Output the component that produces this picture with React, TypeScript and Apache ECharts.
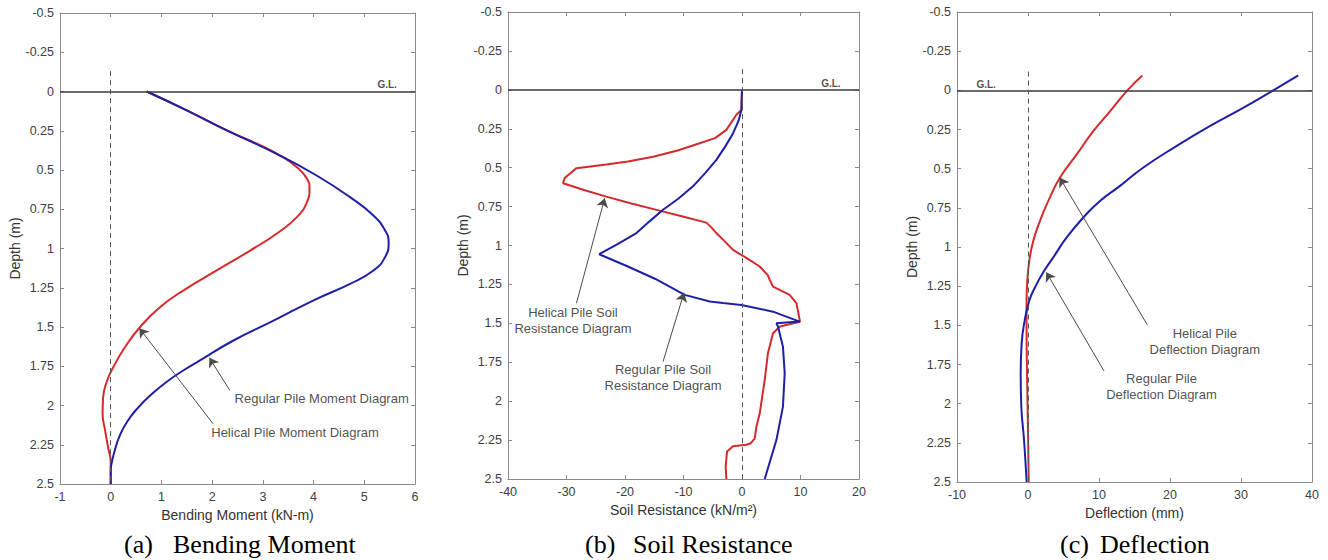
import React, { useEffect, useRef } from "react";
import * as echarts from "echarts";

// ---------- data: [value, depth (m)] ----------
const momentRegular: number[][] = [
  [0.71, 0], [1.5, 0.12], [2.29, 0.248], [3.27, 0.397], [4.06, 0.535], [4.72, 0.673], [5.18, 0.79],
  [5.41, 0.885], [5.48, 0.96], [5.41, 1.055], [5.18, 1.14], [4.72, 1.225], [4.0, 1.33], [3.21, 1.46],
  [2.42, 1.586], [1.76, 1.713], [1.43, 1.777], [1.1, 1.85], [0.8, 1.93], [0.55, 2.01], [0.33, 2.1],
  [0.18, 2.19], [0.085, 2.28], [0.03, 2.35], [0, 2.41], [0, 2.5],
];
const momentHelical: number[][] = [
  [0.71, 0], [1.5, 0.12], [2.29, 0.248], [3.0, 0.35], [3.34, 0.408], [3.67, 0.482], [3.87, 0.556],
  [3.92, 0.62], [3.87, 0.705], [3.67, 0.8], [3.27, 0.906], [2.75, 1.013], [2.09, 1.14], [1.43, 1.268],
  [0.97, 1.374], [0.58, 1.5], [0.28, 1.629], [0.05, 1.756], [-0.08, 1.85], [-0.15, 1.95],
  [-0.16, 2.05], [-0.11, 2.16], [-0.05, 2.27], [0, 2.36], [0, 2.5],
];
const soilRegular: number[][] = [
  [0, 0], [-0.1, 0.13], [-0.6, 0.2], [-1.54, 0.28], [-2.8, 0.36], [-4.38, 0.45], [-6.3, 0.535],
  [-8.38, 0.62], [-10.9, 0.7], [-13.5, 0.77], [-15.8, 0.845], [-18.05, 0.92], [-21.2, 0.99],
  [-24.4, 1.056], [-19.5, 1.135], [-14.8, 1.215], [-9.8, 1.317], [-5.5, 1.36], [-3.25, 1.37],
  [-0.1, 1.382], [5.3, 1.425], [9.86, 1.489], [5.88, 1.5], [6.15, 1.52], [7.0, 1.65], [7.3, 1.82],
  [7.0, 2.035], [5.88, 2.25], [3.88, 2.5],
];
const soilHelical: number[][] = [
  [0, 0], [-0.1, 0.13], [-0.96, 0.16], [-2.67, 0.257], [-4.6, 0.31], [-7.23, 0.343], [-11, 0.39],
  [-15.2, 0.43], [-19.5, 0.46], [-23.2, 0.48], [-28.3, 0.503], [-30.3, 0.567], [-30.6, 0.6],
  [-27, 0.643], [-23.2, 0.686], [-18.9, 0.73], [-14.6, 0.771], [-10.3, 0.812], [-6.09, 0.853],
  [-5.2, 0.885], [-4.38, 0.92], [-2.9, 0.975], [-1.54, 1.028], [0.75, 1.08], [3.03, 1.135],
  [4.4, 1.19], [4.74, 1.22], [5.3, 1.264], [8.15, 1.317], [9.3, 1.37], [9.86, 1.478], [9.9, 1.49],
  [6.5, 1.52], [5.3, 1.564], [4.44, 1.69], [3.88, 1.864], [3.03, 2.08], [2.46, 2.164], [2.17, 2.24],
  [1.5, 2.27], [0.75, 2.28], [-1.54, 2.29], [-2.56, 2.324], [-2.79, 2.42], [-2.67, 2.5],
];
const deflectionRegular: number[][] = [
  [38.07, -0.095], [34.55, 0], [30.3, 0.112], [25.6, 0.229], [20.9, 0.356], [16.2, 0.494],
  [12.96, 0.61], [10.14, 0.706], [7.79, 0.812], [5.45, 0.939], [3.56, 1.066], [2.15, 1.161],
  [0.99, 1.257], [0.19, 1.341], [-0.47, 1.47], [-0.9, 1.62], [-1.03, 1.81], [-0.94, 2.02],
  [-0.56, 2.23], [-0.19, 2.5],
];
const deflectionHelical: number[][] = [
  [16.1, -0.095], [14.0, 0], [11.55, 0.134], [9.2, 0.261], [6.86, 0.409], [4.51, 0.557],
  [2.86, 0.706], [1.69, 0.833], [0.75, 0.96], [0.19, 1.087], [-0.09, 1.214], [-0.2, 1.34],
  [-0.2, 1.53], [-0.12, 1.85], [0, 2.17], [0.1, 2.5],
];

// ---------- axis ranges ----------
const depthMin = -0.5;
const depthMax = 2.5;
const depthStep = 0.25;
const xRanges = [
  { min: -1, max: 6, interval: 1 },
  { min: -40, max: 20, interval: 10 },
  { min: -10, max: 40, interval: 10 },
];
const xNames = ["Bending Moment (kN-m)", "Soil Resistance (kN/m\u00B2)", "Deflection (mm)"];
const captionLetters = ["(a)", "(b)", "(c)"];
const captionTitles = ["Bending Moment", "Soil Resistance", "Deflection"];

// ---------- annotations (data coordinates) ----------
const annotationTexts = [
  [
    { name: "Regular Pile Moment Diagram", value: [4.16, 1.957] },
    { name: "Helical Pile Moment Diagram", value: [3.635, 2.174] },
  ],
  [
    { name: "Helical Pile Soil\nResistance Diagram", value: [-28.9, 1.485] },
    { name: "Regular Pile Soil\nResistance Diagram", value: [-13.5, 1.849] },
  ],
  [
    { name: "Helical Pile\nDeflection Diagram", value: [24.9, 1.602] },
    { name: "Regular Pile\nDeflection Diagram", value: [18.8, 1.893] },
  ],
];
const annotationArrows = [
  [
    [[2.35, 1.905], [1.945, 1.696]],
    [[2.02, 2.117], [0.565, 1.508]],
  ],
  [
    [[-28.3, 1.371], [-23.47, 0.696]],
    [[-13.5, 1.746], [-9.91, 1.303]],
  ],
  [
    [[16.8, 1.496], [4.46, 0.557]],
    [[10.7, 1.791], [2.58, 1.161]],
  ],
];
const glLabelPos = [
  [5.45, -0.045],
  [15.2, -0.04],
  [-5.9, -0.04],
];
const zeroLineTop = [-0.13, -0.133, -0.12];

const BLUE = "#1f1fa6";
const RED = "#d32b2b";
const BOX = "#8a8a8a";
const SANS = "'Liberation Sans', Arial, Helvetica, sans-serif";
const SERIF = "'Liberation Serif', 'Times New Roman', serif";

const grids = [
  { left: 60, top: 13, width: 355, height: 471 },
  { left: 508, top: 12, width: 351, height: 467 },
  { left: 957, top: 12, width: 355, height: 470 },
];
const captionPos = [
  { a: 124, t: 173 },
  { a: 585, t: 633 },
  { a: 1060, t: 1100 },
];

export default function App() {
  const ref = useRef<HTMLDivElement>(null);
  useEffect(() => {
    if (!ref.current) return;
    const chart = echarts.init(ref.current, null, { renderer: "svg" });

    const xAxis: any[] = [];
    const yAxis: any[] = [];
    const series: any[] = [];
    const graphic: any[] = [];
    const seriesData = [
      [momentHelical, momentRegular],
      [soilHelical, soilRegular],
      [deflectionHelical, deflectionRegular],
    ];
    const smoothness = [0.5, false, 0.5];

    grids.forEach((g, i) => {
      const r = xRanges[i];
      const baseAxis = {
        gridIndex: i,
        type: "value",
        axisLine: { show: true, onZero: false, lineStyle: { color: BOX, width: 1 } },
        axisTick: { show: true, inside: true, length: 4, lineStyle: { color: BOX } },
        splitLine: { show: false },
      };
      xAxis.push({
        ...baseAxis,
        position: "bottom",
        min: r.min,
        max: r.max,
        interval: r.interval,
        name: xNames[i],
        nameLocation: "middle",
        nameGap: 22,
        nameTextStyle: { color: "#333", fontSize: 14, fontFamily: SANS },
        axisLabel: { color: "#404040", fontSize: 12.5, fontFamily: SANS, margin: 6 },
      });
      xAxis.push({
        ...baseAxis,
        position: "top",
        min: r.min,
        max: r.max,
        interval: r.interval,
        axisLabel: { show: false },
      });
      yAxis.push({
        ...baseAxis,
        position: "left",
        inverse: true,
        min: depthMin,
        max: depthMax,
        interval: depthStep,
        name: "Depth (m)",
        nameLocation: "middle",
        nameRotate: 90,
        nameGap: 38,
        nameTextStyle: { color: "#333", fontSize: 14, fontFamily: SANS },
        axisLabel: { color: "#404040", fontSize: 12.5, fontFamily: SANS, margin: 6 },
      });
      yAxis.push({
        ...baseAxis,
        position: "right",
        inverse: true,
        min: depthMin,
        max: depthMax,
        interval: depthStep,
        axisLabel: { show: false },
      });

      const [hel, reg] = seriesData[i];
      series.push({
        type: "line",
        name: "Helical",
        xAxisIndex: 2 * i,
        yAxisIndex: 2 * i,
        data: hel,
        showSymbol: false,
        smooth: smoothness[i],
        lineStyle: { color: RED, width: 2 },
        itemStyle: { color: RED },
        z: 3,
        markLine: {
          silent: true,
          symbol: "none",
          animation: false,
          label: { show: false },
          data: [
            { yAxis: 0, lineStyle: { color: "#3a3a3a", width: 1.5, type: "solid" } },
            [
              { coord: [0, zeroLineTop[i]], lineStyle: { color: "#555", width: 1, type: [5, 4] } },
              { coord: [0, depthMax] },
            ],
          ],
        },
      });
      series.push({
        type: "line",
        name: "Regular",
        xAxisIndex: 2 * i,
        yAxisIndex: 2 * i,
        data: reg,
        showSymbol: false,
        smooth: smoothness[i],
        lineStyle: { color: BLUE, width: 2 },
        itemStyle: { color: BLUE },
        z: 4,
      });
      series.push({
        type: "scatter",
        xAxisIndex: 2 * i,
        yAxisIndex: 2 * i,
        symbolSize: 0,
        silent: true,
        z: 5,
        itemStyle: { color: "#222" },
        data: [
          ...annotationTexts[i].map((t) => ({
            name: t.name,
            value: t.value,
            label: { fontSize: 13, color: "#222", fontFamily: SANS, lineHeight: 16, align: "center" },
          })),
          {
            name: "G.L.",
            value: glLabelPos[i],
            label: { fontSize: 10, fontWeight: "bold", color: "#222", fontFamily: SANS },
          },
        ],
        label: { show: true, position: "inside", formatter: "{b}" },
      });
      series.push({
        type: "line",
        xAxisIndex: 2 * i,
        yAxisIndex: 2 * i,
        data: [],
        silent: true,
        z: 6,
        markLine: {
          silent: true,
          animation: false,
          symbol: ["none", "arrow"],
          symbolSize: 9,
          label: { show: false },
          itemStyle: { color: "#111" },
          lineStyle: { color: "#4a4a4a", width: 1, type: "solid" },
          data: annotationArrows[i].map((a) => [{ coord: a[0] }, { coord: a[1] }]),
        },
      });

      graphic.push({
        type: "text",
        left: captionPos[i].a,
        top: 531,
        style: { text: captionLetters[i], font: `26px ${SERIF}`, fill: "#000" },
      });
      graphic.push({
        type: "text",
        left: captionPos[i].t,
        top: 531,
        style: { text: captionTitles[i], font: `26px ${SERIF}`, fill: "#000" },
      });
    });

    chart.setOption({
      animation: false,
      backgroundColor: "#fff",
      grid: grids.map((g) => ({ ...g, show: false, containLabel: false })),
      xAxis,
      yAxis,
      series,
      graphic,
    });
    return () => chart.dispose();
  }, []);
  return (
    <div
      ref={ref}
      style={{ position: "fixed", left: 0, top: 0, width: 1328, height: 560, background: "#fff" }}
    />
  );
}
